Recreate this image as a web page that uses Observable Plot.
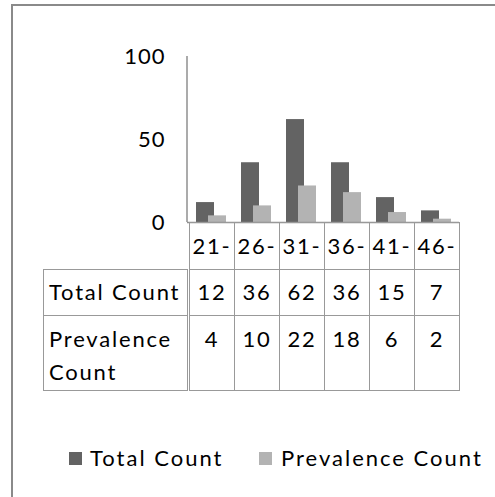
<!DOCTYPE html>
<html>
<head>
<meta charset="utf-8">
<script src="https://cdn.jsdelivr.net/npm/d3@7"></script>
<script src="https://cdn.jsdelivr.net/npm/@observablehq/plot@0.6"></script>
<style>
  html, body { margin: 0; padding: 0; background: #fff; }
  #wrap { position: relative; width: 495px; height: 497px; overflow: hidden; font-family: Lato, "Open Sans", sans-serif; color: #000; }
  #frame { position: absolute; left: 11px; top: 4px; width: 600px; height: 600px; border-left: 2px solid #8a8a8a; border-top: 2px solid #8a8a8a; }
  #plot { position: absolute; left: 0; top: 0; }
  .cell { position: absolute; box-sizing: border-box; font-size: 22px; letter-spacing: 1.8px; white-space: nowrap; }
  .legend { position: absolute; font-size: 22px; letter-spacing: 2px; white-space: nowrap; }
  .sw { position: absolute; width: 13px; height: 13px; }
</style>
</head>
<body>
<div id="wrap">
  <div id="frame"></div>
  <div id="plot"></div>
  <div id="table"></div>
  <div id="legend"></div>
</div>
<script>
const categories = ["21-", "26-", "31-", "36-", "41-", "46-"];
const totalCount = [12, 36, 62, 36, 15, 7];
const prevalenceCount = [4, 10, 22, 18, 6, 2];
const seriesNames = ["Total Count", "Prevalence Count"];
const seriesColors = ["#636363", "#b3b3b3"];
const yTicks = [0, 50, 100];

const data = categories.map((c, i) => ({cat: c, total: totalCount[i], prev: prevalenceCount[i]}));

const W = 495, baseY = 222;
const chart = Plot.plot({
  width: W,
  height: baseY + 1,
  marginLeft: 187,
  marginRight: 36,
  marginTop: 56,
  marginBottom: 1,
  style: {fontFamily: "Lato, 'Open Sans', sans-serif", fontSize: "22px", background: "transparent", overflow: "visible", letterSpacing: "1px"},
  x: {domain: categories, paddingInner: 0.6, paddingOuter: 0.3, align: 0.5, axis: null},
  y: {domain: [0, 100], ticks: yTicks, label: null},
  marks: [
    Plot.axisY({ticks: yTicks, tickSize: 0, tickPadding: 22, label: null, fill: "#000", fontSize: 22}),
    Plot.barY(data, {x: "cat", y: "total", fill: seriesColors[0], dx: -6}),
    Plot.barY(data, {x: "cat", y: "prev", fill: seriesColors[1], dx: 6}),
    Plot.ruleY([0], {stroke: "#8f8f8f", strokeWidth: 1.5})
  ]
});
document.getElementById("plot").appendChild(chart);

// y axis line drawn through the plot's scales
const ys = chart.scale("y");
const xs = chart.scale("x");
d3.select(chart).append("line")
  .attr("x1", 187).attr("x2", 187)
  .attr("y1", ys.apply(100)).attr("y2", ys.apply(0))
  .attr("stroke", "#8f8f8f").attr("stroke-width", 1.5);

// data table under the axis
const step = xs.step;
const colLeft = c => xs.apply(c) - (step - xs.bandwidth) / 2;
const tableLeft = 43;
const rows = [
  {label: "", values: categories, top: baseY, h: 47},
  {label: seriesNames[0], values: totalCount, top: baseY + 47, h: 46},
  {label: seriesNames[1], values: prevalenceCount, top: baseY + 93, h: 75}
];
const table = document.getElementById("table");
const border = "1.5px solid #999";
rows.forEach((r, ri) => {
  if (ri > 0) {
    const d = document.createElement("div");
    d.className = "cell";
    Object.assign(d.style, {left: tableLeft + "px", top: r.top + "px", width: (187 - tableLeft + 1) + "px", height: (r.h + 1) + "px",
      border: border, padding: ri === 1 ? "0 0 0 5px" : "6px 0 0 5px", lineHeight: ri === 1 ? (r.h - 2) + "px" : "33px",
      whiteSpace: ri === 2 ? "normal" : "nowrap"});
    d.textContent = r.label;
    table.appendChild(d);
  }
  categories.forEach((c, ci) => {
    const d = document.createElement("div");
    d.className = "cell";
    const l = colLeft(c);
    Object.assign(d.style, {left: l + "px", top: r.top + "px", width: (step + 1) + "px", height: (r.h + 1) + "px",
      border: border, textAlign: "center", lineHeight: ri === 2 ? "46px" : (r.h - 2) + "px", paddingLeft: "1px"});
    d.textContent = r.values[ci];
    table.appendChild(d);
  });
});

// legend
const legend = document.getElementById("legend");
const legendPos = [{sw: 69, tx: 90}, {sw: 259, tx: 281}];
seriesNames.forEach((n, i) => {
  const s = document.createElement("div");
  s.className = "sw";
  Object.assign(s.style, {left: legendPos[i].sw + "px", top: "452px", background: seriesColors[i]});
  legend.appendChild(s);
  const t = document.createElement("div");
  t.className = "legend";
  Object.assign(t.style, {left: legendPos[i].tx + "px", top: "444px", lineHeight: "28px"});
  t.textContent = n;
  legend.appendChild(t);
});
</script>
</body>
</html>
